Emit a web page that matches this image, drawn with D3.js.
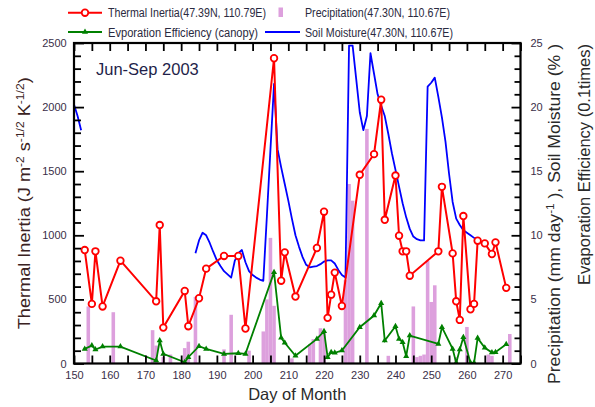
<!DOCTYPE html>
<html>
<head>
<meta charset="utf-8">
<script src="https://cdn.jsdelivr.net/npm/d3@7/dist/d3.min.js"></script>
<style>
  html, body { margin: 0; padding: 0; background: #fff; }
  svg { display: block; font-family: "Liberation Sans", Arial, sans-serif; }
</style>
</head>
<body>
<svg id="chart" width="595" height="407"></svg>
<script>
// Observation days (day of year) shared by thermal inertia and evaporation efficiency
const obsDays = [153, 155, 156, 158, 163, 173, 174, 175, 181, 182, 185, 187, 192, 196, 198,
  206, 208, 209, 212, 218, 220, 221, 222, 223, 225, 230, 234, 236, 237, 240, 241, 242, 243,
  244, 252, 253, 256, 257, 258, 259, 261, 262, 263, 265, 267, 268, 271];

// Thermal inertia, J m-2 s-1/2 K-1/2
const thermalInertia = [885, 465, 875, 445, 802, 485, 1080, 280, 566, 291, 509, 740, 839, 839, 273,
  2381, 646, 867, 522, 901, 1184, 356, 537, 709, 449, 1472, 1633, 2058, 1121, 1466, 997, 875, 875,
  685, 875, 1378, 859, 485, 340, 1150, 423, 465, 958, 937, 854, 945, 590];

// Evaporation efficiency (canopy), in units of 0.1
const evapEfficiency = [1.14, 1.40, 1.09, 1.32, 1.32, 0.23, 1.79, 0.75, 0.10, 0.49, 1.35, 1.14, 0.75, 0.80, 0.75,
  7.11, 2.0, 1.62, 0.6, 1.92, 2.52, 0.49, 0.88, 0.83, 1.01, 2.83, 3.74, 4.70, 1.79, 2.90, 1.92, 1.66, 0.57,
  2.18, 1.53, 2.83, 1.14, 0.05, 1.10, 2.05, 0.05, 0.05, 1.98, 1.22, 0.85, 0.88, 1.50];

// Soil moisture (%), daily; null marks the missing stretch
const smDays = [150, 151, 152, 153,
  184, 185, 186, 187, 188, 189, 190, 191, 192, 193, 194, 195, 196, 197, 198, 199, 200, 201, 202, 203,
  204, 205, 206, 207, 208, 209, 210, 211, 212, 213, 214, 215, 216, 217, 218, 219, 220, 221, 222, 223,
  224, 225, 226, 227, 228, 229, 230, 231, 232, 233, 234, 235, 236, 237, 238, 239, 240, 241, 242, 243,
  244, 245, 246, 247, 248, 249, 250, 251, 252, 253, 254, 255, 256, 257, 258, 259, 260, 261, 262, 263];
const soilMoisture = [20.2, 19.3, 18.2, null,
  8.6, 9.6, 10.2, 10.0, 9.4, 8.7, 8.05, 7.6, 7.2, 6.95, 6.7, 8.0, 8.6, 8.85, 7.9, 7.2, 6.9, 6.7, 6.55, 6.45,
  11.5, 16.7, 21.8, 16.7, 15.3, 14.0, 12.7, 11.3, 10.0, 9.1, 8.3, 7.7, 7.5, 7.55, 7.6, 7.75, 7.95, 8.05, 8.05, 7.8,
  7.3, 6.9, 6.7, 24.8, 24.8, 22.2, 19.6, 18.2, 19.3, 24.2, 22.6, 21.0, 20.1, 19.3, 17.9, 16.4, 15.1, 13.8, 12.5, 11.4,
  10.5, 9.9, 9.7, 9.6, 9.6, 21.6, 21.9, 22.3, 20.8, 19.2, 17.3, 14.8, 12.6, 11.3, 10.8, 10.4, 10.2, 10.0, 9.8, 9.75];

// Precipitation (mm/day)
const precipDays = [154, 161, 172, 173, 175, 177, 181, 182, 184, 192, 194, 199, 203, 204, 205, 206, 211,
  216, 217, 219, 220, 226, 227, 228, 232, 238, 245, 246, 247, 248, 249, 250, 251, 257, 260, 266, 267, 272];
const precipValues = [4.45, 4.0, 2.6, 1.4, 0.5, 0.7, 1.2, 1.7, 5.2, 1.1, 3.8, 1.0, 2.5, 5.0, 9.8, 4.5, 0.4,
  1.5, 1.9, 2.75, 2.4, 6.5, 14.0, 12.7, 18.3, 0.6, 4.45, 0.5, 0.6, 0.7, 8.0, 4.8, 6.1, 0.5, 2.85, 0.7, 0.6, 2.3];

// Axis tick labels
const xTickLabels = [150, 160, 170, 180, 190, 200, 210, 220, 230, 240, 250, 260, 270];
const leftTickLabels = [0, 500, 1000, 1500, 2000, 2500];
const rightTickLabels = [0, 5, 10, 15, 20, 25];

const svg = d3.select("#chart");
const plot = { left: 74, right: 520.5, top: 43, bottom: 363.5 };

const x = d3.scaleLinear().domain([150, 275]).range([plot.left, plot.right]);
const yL = d3.scaleLinear().domain([0, 2500]).range([plot.bottom, plot.top]);
const yR = d3.scaleLinear().domain([0, 25]).range([plot.bottom, plot.top]);

const RED = "#ff0000", GREEN = "#008000", BLUE = "#0000ff", PINK = "#dda0dd";
const LABEL = "#3a2e48", TITLE = "#2a2a2a";
const plain = d3.format("d");

svg.append("defs").append("clipPath").attr("id", "plotClip")
  .append("rect")
  .attr("x", plot.left).attr("y", plot.top)
  .attr("width", plot.right - plot.left).attr("height", plot.bottom - plot.top);

const layer = svg.append("g").attr("clip-path", "url(#plotClip)");

// Precipitation bars
const precip = precipDays.map((d, i) => ({ day: d, v: precipValues[i] }));
layer.append("g").selectAll("rect").data(precip).join("rect")
  .attr("x", d => x(d.day - 0.5))
  .attr("width", d => x(d.day + 0.5) - x(d.day - 0.5))
  .attr("y", d => yR(d.v))
  .attr("height", d => yR(0) - yR(d.v))
  .attr("fill", PINK);

// Soil moisture line
const sm = smDays.map((d, i) => ({ day: d, v: soilMoisture[i] }));
layer.append("path")
  .datum(sm)
  .attr("fill", "none").attr("stroke", BLUE).attr("stroke-width", 1.8)
  .attr("stroke-linejoin", "round")
  .attr("d", d3.line().defined(d => d.v !== null).x(d => x(d.day)).y(d => yR(d.v)));

// Evaporation efficiency line with triangles
const ee = obsDays.map((d, i) => ({ day: d, v: evapEfficiency[i] }));
layer.append("path")
  .datum(ee)
  .attr("fill", "none").attr("stroke", GREEN).attr("stroke-width", 1.8)
  .attr("d", d3.line().x(d => x(d.day)).y(d => yR(d.v)));
const tri = d3.symbol().type(d3.symbolTriangle).size(16);
layer.append("g").selectAll("path").data(ee).join("path")
  .attr("transform", d => `translate(${x(d.day)},${yR(d.v)})`)
  .attr("d", tri).attr("fill", GREEN);

// Thermal inertia line with open circles
const ti = obsDays.map((d, i) => ({ day: d, v: thermalInertia[i] }));
layer.append("path")
  .datum(ti)
  .attr("fill", "none").attr("stroke", RED).attr("stroke-width", 2)
  .attr("d", d3.line().x(d => x(d.day)).y(d => yL(d.v)));
layer.append("g").selectAll("circle").data(ti).join("circle")
  .attr("cx", d => x(d.day)).attr("cy", d => yL(d.v)).attr("r", 3.3)
  .attr("fill", "#fff").attr("stroke", RED).attr("stroke-width", 1.8);

// Axes: inward ticks, minor and major
function styleAxis(g) {
  g.select(".domain").remove();
  g.selectAll(".tick line").attr("stroke", "#000").attr("stroke-width", 1.8);
  g.selectAll(".tick text").attr("fill", LABEL).style("font-size", "11px")
    .style("font-family", "'Liberation Sans', Arial, sans-serif");
}

const xMinor = d3.range(150, 276, 5);
svg.append("g").attr("transform", `translate(0,${plot.bottom})`)
  .call(d3.axisBottom(x).tickValues(xMinor).tickSizeInner(-8).tickSizeOuter(0)
    .tickPadding(7.7).tickFormat(d => xTickLabels.includes(d) ? plain(d) : ""))
  .call(styleAxis);
svg.append("g").attr("transform", `translate(0,${plot.top})`)
  .call(d3.axisTop(x).tickValues(xMinor).tickSizeInner(-8).tickSizeOuter(0).tickFormat(""))
  .call(styleAxis);

const yLMinor = d3.range(0, 2501, 100).filter(v => !leftTickLabels.includes(v));
svg.append("g").attr("transform", `translate(${plot.left},0)`)
  .call(d3.axisLeft(yL).tickValues(yLMinor).tickSizeInner(-7).tickSizeOuter(0).tickFormat(""))
  .call(styleAxis);
svg.append("g").attr("transform", `translate(${plot.left},0)`)
  .call(d3.axisLeft(yL).tickValues(leftTickLabels).tickSizeInner(-10).tickSizeOuter(0).tickFormat(plain))
  .call(styleAxis)
  .call(g => g.selectAll(".tick text").attr("x", -7.3));

const yRMinor = d3.range(0, 26, 1).filter(v => !rightTickLabels.includes(v));
svg.append("g").attr("transform", `translate(${plot.right},0)`)
  .call(d3.axisRight(yR).tickValues(yRMinor).tickSizeInner(-6).tickSizeOuter(0).tickFormat(""))
  .call(styleAxis);
svg.append("g").attr("transform", `translate(${plot.right},0)`)
  .call(d3.axisRight(yR).tickValues(rightTickLabels).tickSizeInner(-9).tickSizeOuter(0).tickFormat(plain))
  .call(styleAxis)
  .call(g => g.selectAll(".tick text").attr("x", 10));

// Frame
svg.append("rect")
  .attr("x", plot.left).attr("y", plot.top)
  .attr("width", plot.right - plot.left).attr("height", plot.bottom - plot.top)
  .attr("fill", "none").attr("stroke", "#000").attr("stroke-width", 2.2);

// Period label
svg.append("text").attr("x", 96).attr("y", 75)
  .attr("fill", "#1f1f4a").style("font-size", "16.5px").text("Jun-Sep 2003");

// Axis titles
svg.append("text").attr("x", (plot.left + plot.right) / 2).attr("y", 400)
  .attr("text-anchor", "middle").attr("fill", TITLE).style("font-size", "16.5px")
  .text("Day of Month");

function sup(t, s) {
  t.append("tspan").attr("baseline-shift", "super").style("font-size", "11px").text(s);
}

const lt = svg.append("text")
  .attr("transform", `translate(30,${(plot.top + plot.bottom) / 2}) rotate(-90)`)
  .attr("text-anchor", "middle").attr("fill", "#3a2222").style("font-size", "16.5px")
  .attr("textLength", 252).attr("lengthAdjust", "spacingAndGlyphs");
lt.append("tspan").text("Thermal Inertia (J m");
sup(lt, "-2");
lt.append("tspan").text(" s");
sup(lt, "-1/2");
lt.append("tspan").text(" K");
sup(lt, "-1/2");
lt.append("tspan").text(")");

const rt1 = svg.append("text")
  .attr("transform", "translate(560,44) rotate(-90)")
  .attr("text-anchor", "end").attr("fill", TITLE).style("font-size", "16.5px")
  .attr("textLength", 340).attr("lengthAdjust", "spacingAndGlyphs");
rt1.append("tspan").text("Precipitation (mm day");
sup(rt1, "-1");
rt1.append("tspan").text(" ), Soil Moisture (% )");

svg.append("text")
  .attr("transform", "translate(590,44) rotate(-90)")
  .attr("text-anchor", "end").attr("fill", TITLE).style("font-size", "16.5px")
  .text("Evaporation Efficiency (0.1times)");

// Legend
const leg = svg.append("g").style("font-size", "12px").attr("fill", "#2a2a40");
leg.append("line").attr("x1", 68).attr("x2", 102).attr("y1", 12.7).attr("y2", 12.7)
  .attr("stroke", RED).attr("stroke-width", 2);
leg.append("circle").attr("cx", 85).attr("cy", 12.7).attr("r", 3.3)
  .attr("fill", "#fff").attr("stroke", RED).attr("stroke-width", 1.8);
leg.append("text").attr("x", 108).attr("y", 17)
  .attr("textLength", 158).attr("lengthAdjust", "spacingAndGlyphs")
  .text("Thermal Inertia(47.39N, 110.79E)");

leg.append("rect").attr("x", 278.5).attr("y", 7.5).attr("width", 4.5).attr("height", 9.5)
  .attr("fill", PINK);
leg.append("text").attr("x", 305).attr("y", 17)
  .attr("textLength", 145).attr("lengthAdjust", "spacingAndGlyphs")
  .text("Precipitation(47.30N, 110.67E)");

leg.append("line").attr("x1", 68).attr("x2", 102).attr("y1", 32).attr("y2", 32)
  .attr("stroke", GREEN).attr("stroke-width", 2);
leg.append("path").attr("transform", "translate(85,32)").attr("d", tri).attr("fill", GREEN);
leg.append("text").attr("x", 108).attr("y", 36.5)
  .attr("textLength", 150).attr("lengthAdjust", "spacingAndGlyphs")
  .text("Evporation Efficiency (canopy)");

leg.append("line").attr("x1", 265).attr("x2", 300).attr("y1", 32).attr("y2", 32)
  .attr("stroke", BLUE).attr("stroke-width", 2);
leg.append("text").attr("x", 305).attr("y", 36.5)
  .attr("textLength", 148).attr("lengthAdjust", "spacingAndGlyphs")
  .text("Soil Moisture(47.30N, 110.67E)");
</script>
</body>
</html>
